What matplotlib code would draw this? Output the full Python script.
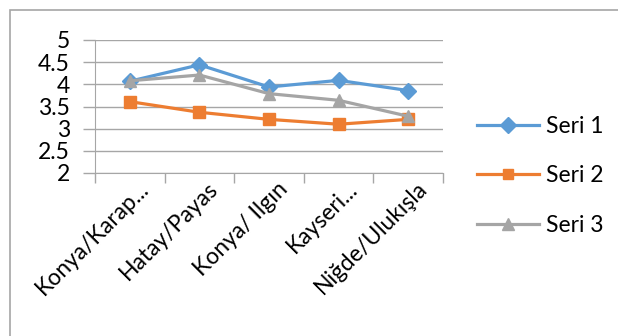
import matplotlib.pyplot as plt
from matplotlib.patches import Rectangle

plt.rcParams['font.family'] = ['Lato', 'DejaVu Sans']

categories = ['Konya/Karap...', 'Hatay/Payas', 'Konya/ Ilgın', 'Kayseri...', 'Niğde/Ulukışla']
seri1 = [4.07, 4.44, 3.94, 4.09, 3.86]
seri2 = [3.61, 3.37, 3.21, 3.10, 3.21]
seri3 = [4.08, 4.21, 3.79, 3.64, 3.28]
yticks = [2, 2.5, 3, 3.5, 4, 4.5, 5]
ytick_labels = ['2', '2.5', '3', '3.5', '4', '4.5', '5']

fig = plt.figure(figsize=(6.18, 3.36), dpi=100)
ax = fig.add_axes([95 / 618, 1 - 173 / 336, (443 - 95) / 618, (173 - 40) / 336])

# chart border
fig.patches.append(Rectangle((10 / 618, -0.1), 1.2, 1 - 10 / 336 + 0.1, transform=fig.transFigure,
                             fill=False, edgecolor='#a6a6a6', linewidth=1.2))

x = list(range(len(categories)))
ax.plot(x, seri1, color='#5B9BD5', lw=2.3, marker='D', ms=8.5, label='Seri 1', zorder=3)
ax.plot(x, seri2, color='#ED7D31', lw=2.3, marker='s', ms=8, label='Seri 2', zorder=3)
ax.plot(x, seri3, color='#A5A5A5', lw=2.3, marker='^', ms=9, label='Seri 3', zorder=3)

ax.set_xlim(-0.5, len(categories) - 0.5)
ax.set_ylim(2, 5)
ax.set_yticks(yticks)
ax.set_yticklabels(ytick_labels)
ax.yaxis.grid(True, color='#a6a6a6', lw=1)
ax.set_axisbelow(True)
for s in ['top', 'right']:
    ax.spines[s].set_visible(False)
ax.spines['left'].set_color('#a6a6a6')
ax.spines['bottom'].set_color('#a6a6a6')
ax.tick_params(axis='y', length=9, width=1, color='#a6a6a6', labelsize=16.5, pad=9)

# category boundary ticks
ax.set_xticks([i - 0.5 for i in range(len(categories) + 1)])
ax.set_xticklabels([])
ax.tick_params(axis='x', length=7, width=1, color='#a6a6a6')
for i, c in enumerate(categories):
    ax.annotate(c, xy=(i, 0), xycoords=('data', 'axes fraction'), xytext=(11, -9),
                textcoords='offset points', rotation=45, ha='right', va='center',
                rotation_mode='anchor', fontsize=16.5)

ax.legend(loc='center left', bbox_to_anchor=(477 / 618, 1 - 176 / 336), bbox_transform=fig.transFigure,
          frameon=False, fontsize=16.5, handlelength=2.7, handletextpad=0.3, labelspacing=1.25,
          borderpad=0, borderaxespad=0, markerscale=0.9)

fig.savefig('out.png', dpi=100)
